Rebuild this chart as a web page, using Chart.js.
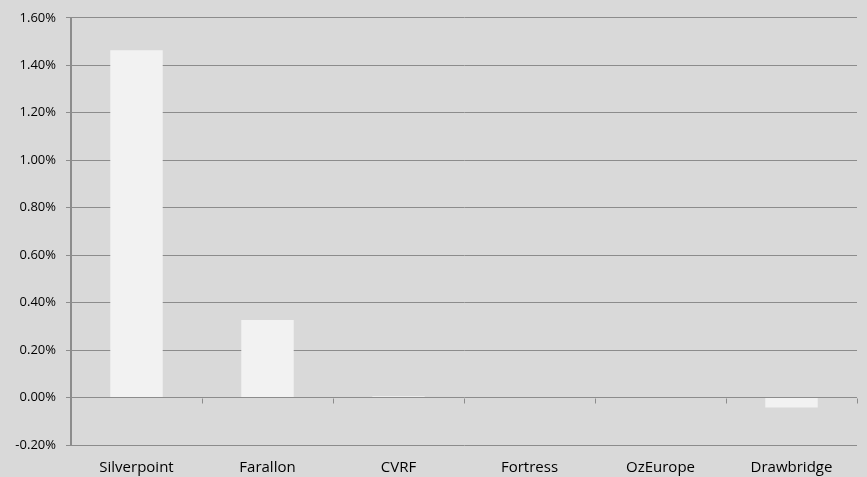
<!DOCTYPE html>
<html>
<head>
<meta charset="utf-8">
<script src="https://cdn.jsdelivr.net/npm/chart.js@4"></script>
<style>
  html, body { margin: 0; padding: 0; background: #d9d9d9; }
  #wrap { width: 867px; height: 477px; position: relative; }
</style>
</head>
<body>
<div id="wrap"><canvas id="chart"></canvas></div>
<script>
// values (in %)
var funds = ["Silverpoint", "Farallon", "CVRF", "Fortress", "OzEurope", "Drawbridge"]
var returns = [1.463, 0.327, 0.005, 0.0, -0.002, -0.042]
var yMin = -0.2
var yMax = 1.6
var yStep = 0.2

var gridColour = "#8c8c8c"
var labelFont = "'Open Sans', Lato, sans-serif"

// grey page behind the chart
var background = {
  id: "background",
  beforeDraw: function(chart) {
    var ctx = chart.ctx
    ctx.save()
    ctx.fillStyle = "#d9d9d9"
    ctx.fillRect(0, 0, chart.width, chart.height)
    ctx.restore()
  }
}

// small category tick marks hanging off the zero line
var zeroTicks = {
  id: "zeroTicks",
  afterDatasetsDraw: function(chart) {
    var x = chart.scales.x
    var y0 = Math.round(chart.scales.y.getPixelForValue(0)) + 0.5
    var ctx = chart.ctx
    var step = (x.right - x.left) / funds.length
    ctx.save()
    ctx.strokeStyle = gridColour
    ctx.lineWidth = 1
    ctx.beginPath()
    for (var i = 0; i <= funds.length; i++) {
      var px = Math.round(x.left + i * step) + 0.5
      ctx.moveTo(px, y0)
      ctx.lineTo(px, y0 + 5)
    }
    ctx.stroke()
    ctx.restore()
  }
}

new Chart(document.getElementById("chart"), {
  type: "bar",
  data: {
    labels: funds,
    datasets: [{
      data: returns,
      backgroundColor: "#f2f2f2",
      borderWidth: 0,
      barPercentage: 0.4,
      categoryPercentage: 1
    }]
  },
  options: {
    responsive: true,
    maintainAspectRatio: false,
    animation: false,
    layout: { padding: { top: 9, right: 10, left: 0, bottom: 0 } },
    plugins: {
      legend: { display: false },
      tooltip: { enabled: false }
    },
    scales: {
      x: {
        grid: { display: false },
        border: { display: false },
        ticks: {
          color: "#000",
          font: { family: labelFont, size: 15 },
          padding: 6
        },
        afterFit: function(scale) { scale.height = 32 }
      },
      y: {
        min: yMin,
        max: yMax,
        grid: {
          color: gridColour,
          tickLength: 5,
          lineWidth: 1
        },
        border: { display: true, color: gridColour, width: 2 },
        ticks: {
          stepSize: yStep,
          color: "#000",
          padding: 10,
          font: { family: labelFont, size: 13 },
          callback: function(value) {
            return value.toFixed(2) + "%"
          }
        },
        afterFit: function(scale) { scale.width = 71 }
      }
    }
  },
  plugins: [background, zeroTicks]
})
</script>
</body>
</html>
